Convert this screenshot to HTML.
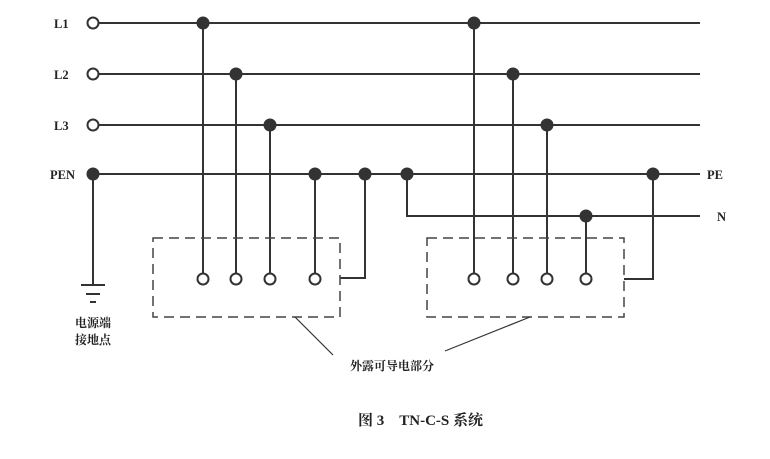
<!DOCTYPE html>
<html><head><meta charset="utf-8"><style>
html,body{margin:0;padding:0;background:#fff;}
svg{display:block;}
text{font-family:"Liberation Serif","Noto Serif CJK SC",serif;fill:#222;}
</style></head><body>
<svg width="770" height="459" viewBox="0 0 770 459" xmlns="http://www.w3.org/2000/svg">
<g stroke="#333" stroke-width="2" fill="none">
<line x1="98" y1="23" x2="700" y2="23"/>
<line x1="98" y1="74" x2="700" y2="74"/>
<line x1="98" y1="125" x2="700" y2="125"/>
<line x1="93" y1="174" x2="700" y2="174"/>
<polyline points="407,174 407,216 700,216"/>
<line x1="93" y1="174" x2="93" y2="285"/>
<line x1="81" y1="285" x2="105" y2="285"/>
<line x1="86" y1="294" x2="100" y2="294"/>
<line x1="90" y1="302" x2="96" y2="302"/>
<line x1="203" y1="23" x2="203" y2="274"/>
<line x1="236" y1="74" x2="236" y2="274"/>
<line x1="270" y1="125" x2="270" y2="274"/>
<line x1="315" y1="174" x2="315" y2="274"/>
<polyline points="365,174 365,278 340,278"/>
<line x1="474" y1="23" x2="474" y2="274"/>
<line x1="513" y1="74" x2="513" y2="274"/>
<line x1="547" y1="125" x2="547" y2="274"/>
<line x1="586" y1="216" x2="586" y2="274"/>
<polyline points="653,174 653,279 624,279"/>
</g>
<g stroke="#444" stroke-width="1.5" fill="none" stroke-dasharray="10,6">
<rect x="153" y="238" width="187" height="79"/>
<rect x="427" y="238" width="197" height="79"/>
</g>
<g stroke="#333" stroke-width="1.2">
<line x1="295" y1="317" x2="333" y2="355"/>
<line x1="530" y1="317" x2="445" y2="351"/>
</g>
<g fill="#fff" stroke="#333" stroke-width="2">
<circle cx="93" cy="23" r="5.5"/><circle cx="93" cy="74" r="5.5"/><circle cx="93" cy="125" r="5.5"/>
<circle cx="203" cy="279" r="5.5"/><circle cx="236" cy="279" r="5.5"/><circle cx="270" cy="279" r="5.5"/><circle cx="315" cy="279" r="5.5"/>
<circle cx="474" cy="279" r="5.5"/><circle cx="513" cy="279" r="5.5"/><circle cx="547" cy="279" r="5.5"/><circle cx="586" cy="279" r="5.5"/>
</g>
<g fill="#333">
<circle cx="93" cy="174" r="6.5"/>
<circle cx="203" cy="23" r="6.5"/><circle cx="236" cy="74" r="6.5"/><circle cx="270" cy="125" r="6.5"/>
<circle cx="315" cy="174" r="6.5"/><circle cx="365" cy="174" r="6.5"/><circle cx="407" cy="174" r="6.5"/>
<circle cx="474" cy="23" r="6.5"/><circle cx="513" cy="74" r="6.5"/><circle cx="547" cy="125" r="6.5"/>
<circle cx="586" cy="216" r="6.5"/><circle cx="653" cy="174" r="6.5"/>
</g>
<g font-size="12.5" font-weight="bold">
<text x="54" y="28">L1</text>
<text x="54" y="79">L2</text>
<text x="54" y="130">L3</text>
<text x="50" y="179">PEN</text>
<text x="707" y="179">PE</text>
<text x="717" y="221">N</text>
</g>
<g font-size="12" font-weight="bold" text-anchor="middle">
<text x="93" y="327">电源端</text>
<text x="93" y="344">接地点</text>
<text x="392" y="370">外露可导电部分</text>
</g>
<text x="358" y="425" font-size="15" font-weight="bold">图 3　TN-C-S 系统</text>
</svg>
</body></html>
